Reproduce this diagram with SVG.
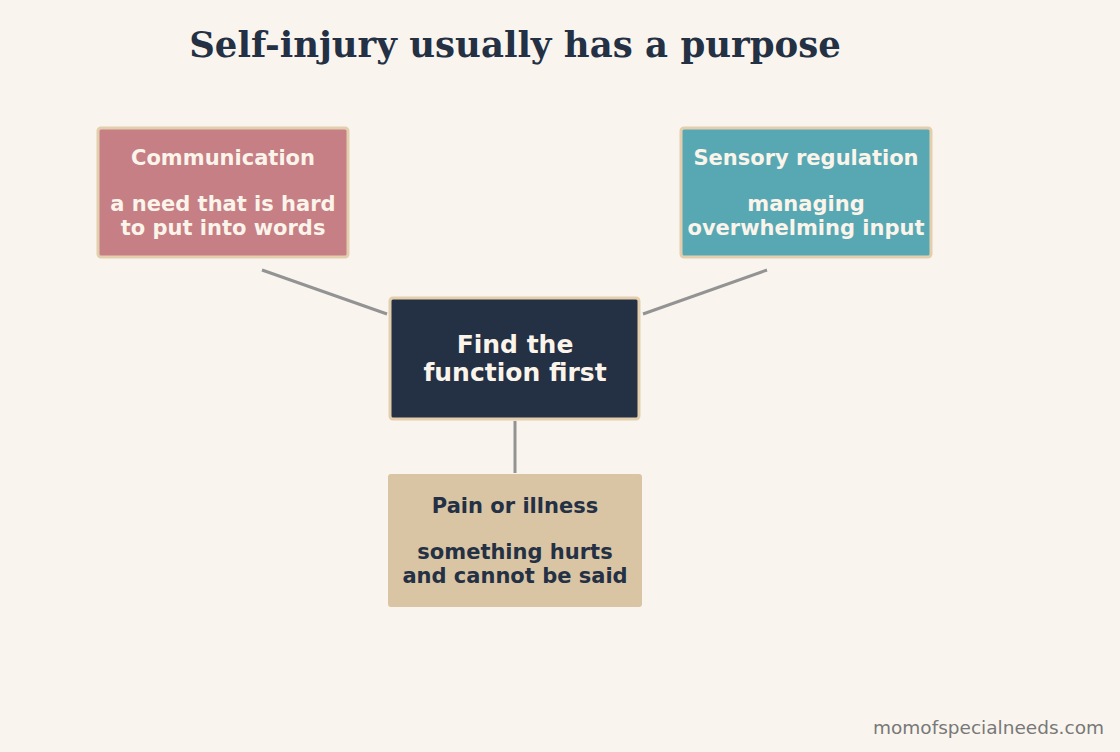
<svg xmlns="http://www.w3.org/2000/svg" width="1120" height="752" viewBox="0 0 1120 752">
<style>
.box{stroke:#e3cfad;stroke-width:3}
.t{font-family:"DejaVu Sans",sans-serif;font-weight:bold;font-size:21px;text-anchor:middle}
.w{fill:#fbf4ea}
.d{fill:#243044}
.c{stroke:#939393;stroke-width:3;fill:none}
</style>
<rect width="1120" height="752" fill="#f9f5ee"/>
<text x="515" y="57" text-anchor="middle" font-family="DejaVu Serif,serif" font-weight="bold" font-size="35.5" fill="#243044">Self-injury usually has a purpose</text>
<g id="connectors">
<line class="c" x1="262" y1="270" x2="387" y2="314"/>
<line class="c" x1="767" y1="270" x2="643" y2="314"/>
<line class="c" x1="515" y1="421" x2="515" y2="473"/>
</g>
<g id="communication">
<rect class="box" x="98" y="128" width="250" height="129" rx="3" fill="#c67f85"/>
<text class="t w" x="223" y="165">Communication</text>
<text class="t w" x="223" y="211">a need that is hard</text>
<text class="t w" x="223" y="235">to put into words</text>
</g>
<g id="sensory">
<rect class="box" x="681" y="128" width="250" height="129" rx="3" fill="#58a8b4"/>
<text class="t w" x="806" y="165">Sensory regulation</text>
<text class="t w" x="806" y="211">managing</text>
<text class="t w" x="806" y="235">overwhelming input</text>
</g>
<g id="center">
<rect class="box" x="390" y="298" width="249" height="121" rx="3" fill="#243044"/>
<text class="t w" x="515" y="353" style="font-size:25px">Find the</text>
<text class="t w" x="515" y="381" style="font-size:25px">function first</text>
</g>
<g id="pain">
<rect x="388" y="474" width="254" height="133" rx="3" fill="#d9c4a3"/>
<text class="t d" x="515" y="513">Pain or illness</text>
<text class="t d" x="515" y="559">something hurts</text>
<text class="t d" x="515" y="583">and cannot be said</text>
</g>
<text x="1104" y="734" text-anchor="end" font-family="DejaVu Sans,sans-serif" font-size="18.5" fill="#787878">momofspecialneeds.com</text>
</svg>
